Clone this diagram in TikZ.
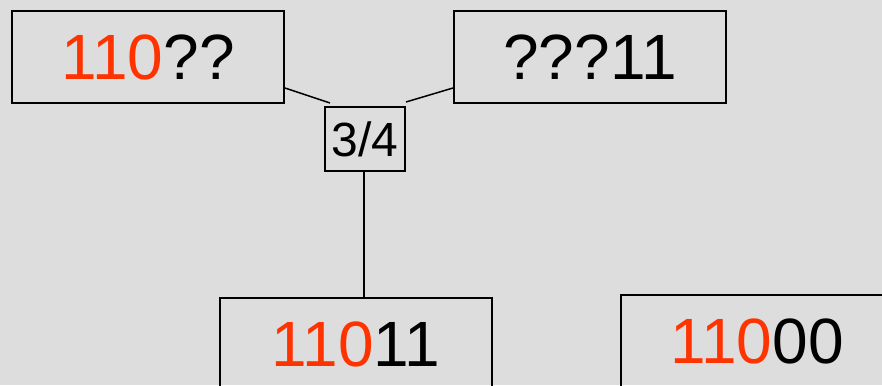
\documentclass[tikz,border=0pt]{standalone}
\usepackage{fontspec}
\setmainfont{Liberation Sans}
\definecolor{bgcol}{HTML}{DDDDDD}
\definecolor{hit}{HTML}{FF3300}
\begin{document}
\begin{tikzpicture}[x=1pt,y=-1pt,
  pattern/.style={draw=black,line width=2pt,minimum width=272pt,minimum height=92pt,
    inner sep=0pt,font=\fontsize{64}{64}\selectfont},
  ratio/.style={draw=black,line width=2pt,minimum width=80pt,minimum height=64pt,
    inner sep=0pt,font=\fontsize{48}{48}\selectfont},
  link/.style={line width=1.5pt}]
  \useasboundingbox (0,0) rectangle (882,385);
  \clip (0,0) rectangle (882,385);
  \fill[bgcol] (0,0) rectangle (882,385);
  % schema boxes
  \node[pattern] (b1) at (148,57) {\textcolor{hit}{110}??};
  \node[pattern] (b2) at (590,57) {???11};
  \node[ratio]   (f)  at (365,139) {3/4};
  \node[pattern] (b3) at (356,344) {\textcolor{hit}{110}11};
  \node[pattern] (b4) at (757,341) {\textcolor{hit}{110}00};
  % connectors
  \draw[link] ([yshift=16pt]b1.south east) -- ([xshift=6pt,yshift=3pt]f.north west);
  \draw[link] ([yshift=16pt]b2.south west) -- ([yshift=4pt]f.north east);
  \draw[link] ([xshift=-1pt]f.south) -- ([xshift=-1pt]f.south |- b3.north);
\end{tikzpicture}
\end{document}
